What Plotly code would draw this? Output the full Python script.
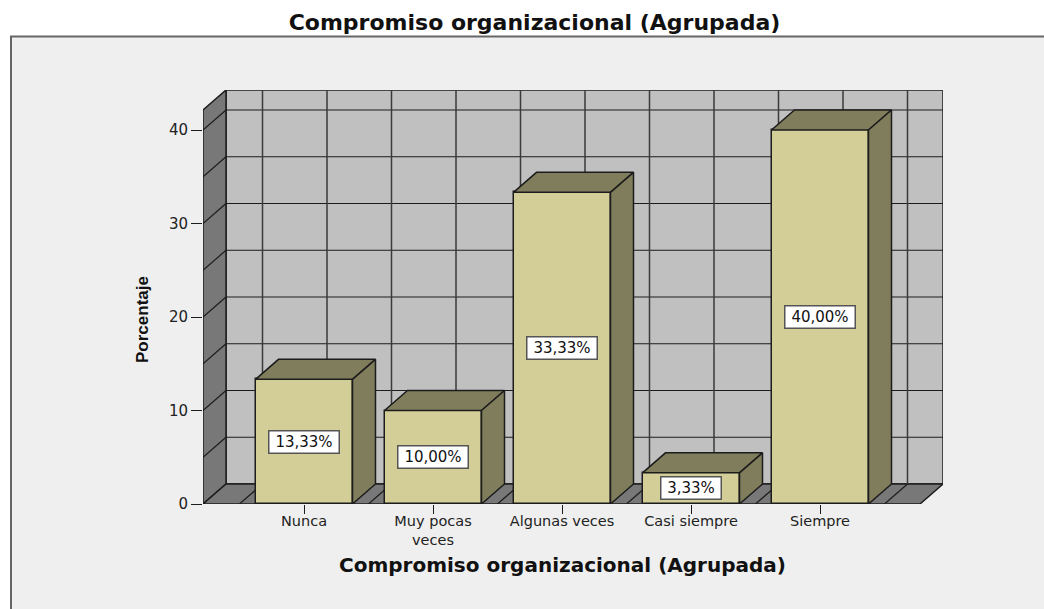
import plotly.graph_objects as go

categories = ["Nunca", "Muy pocas<br>veces", "Algunas veces", "Casi siempre", "Siempre"]
values = [13.33, 10.00, 33.33, 3.33, 40.00]
labels = ["13,33%", "10,00%", "33,33%", "3,33%", "40,00%"]
y_ticks = [0, 10, 20, 30, 40]
title_text = "Compromiso organizacional (Agrupada)"
y_title = "Porcentaje"

W, H = 1044, 609
L, R, T, B = 203, 943, 90, 504
PX_X = 129.0
PX_Y = 9.35
X0 = 304.0
DX = 23 / PX_X
DY = 20 / PX_Y
BAR_W = 97 / PX_X
xr = [(L - X0) / PX_X, (R - X0) / PX_X]
yr = [0, (B - T) / PX_Y]
FRONT = xr[1] - DX
TOPF = yr[1] - DY

WALL, DARK, FRONTC, SIDE, BG = "#c0c0c0", "#787878", "#d3ce97", "#807d5c", "#efefef"
INK = "#1c1c1c"


def px(x):
    return (x - L) / (R - L)


def py(y):
    return (B - y) / (B - T)


def poly(pts):
    return "M" + " L".join(f"{a},{b}" for a, b in pts) + " Z"


shapes = [dict(type="rect", xref="paper", yref="paper", x0=px(11), x1=px(W + 5), y0=py(36.5), y1=py(H + 5),
               fillcolor=BG, line=dict(color="#666666", width=2), layer="below")]


def area(pts, color):
    shapes.append(dict(type="path", xref="x", yref="y", path=poly(pts), fillcolor=color,
                       line=dict(color=INK, width=1.5), layer="below"))


def seg(x0, y0, x1, y1, color=INK, w=1.2):
    shapes.append(dict(type="line", xref="x", yref="y", x0=x0, y0=y0, x1=x1, y1=y1,
                       line=dict(color=color, width=w), layer="below"))


area([(xr[0] + DX, DY), (xr[1], DY), (xr[1], yr[1]), (xr[0] + DX, yr[1])], WALL)
area([(xr[0], 0), (xr[0] + DX, DY), (xr[0] + DX, yr[1]), (xr[0], TOPF)], DARK)
area([(xr[0], 0), (FRONT, 0), (xr[1], DY), (xr[0] + DX, DY)], DARK)

step = 5
level = step
while level <= TOPF:
    seg(xr[0] + DX, level + DY, xr[1], level + DY)
    seg(xr[0], level, xr[0] + DX, level + DY)
    level += step

for k in range(11):
    gx = -0.5 + k * 0.5
    seg(gx + DX, DY, gx + DX, yr[1], "#3a3a3a", 1.5)
    seg(gx, 0, gx + DX, DY)

fig = go.Figure()

fig.add_trace(go.Bar(x=list(range(len(values))), y=values, width=BAR_W,
                     marker=dict(color=FRONTC, line=dict(color=INK, width=1.5)), hoverinfo="skip"))

for i, v in enumerate(values):
    a, b = i - BAR_W / 2, i + BAR_W / 2
    fig.add_trace(go.Scatter(x=[a, b, b + DX, a + DX, a], y=[v, v, v + DY, v + DY, v],
                             mode="lines", fill="toself", fillcolor=SIDE,
                             line=dict(color=INK, width=1.5), hoverinfo="skip"))
    fig.add_trace(go.Scatter(x=[b, b + DX, b + DX, b, b], y=[0, DY, v + DY, v, 0],
                             mode="lines", fill="toself", fillcolor=SIDE,
                             line=dict(color=INK, width=1.5), hoverinfo="skip"))

annotations = [dict(x=i, y=v / 2, xref="x", yref="y", text=t, showarrow=False, bgcolor="white",
                    bordercolor="#555555", borderwidth=1.5, borderpad=1, width=len(t) * 10 + 7, height=19,
                    font=dict(family="DejaVu Sans, sans-serif", size=15, color="#111"))
               for i, (v, t) in enumerate(zip(values, labels))]
annotations += [
    dict(xref="paper", yref="paper", x=px(562), y=py(565), xanchor="center", yanchor="middle",
         text=f"<b>{title_text}</b>", showarrow=False,
         font=dict(family="DejaVu Sans, sans-serif", size=20, color="#111")),
    dict(xref="paper", yref="paper", x=px(142), y=py(320), xanchor="center", yanchor="middle",
         text=f"<b>{y_title}</b>", showarrow=False, textangle=-90,
         font=dict(family="Liberation Sans, sans-serif", size=17, color="#111")),
]

fig.update_layout(
    width=W, height=H, autosize=False, showlegend=False, bargap=0,
    margin=dict(l=L, r=W - R, t=T, b=H - B),
    paper_bgcolor="white", plot_bgcolor="rgba(0,0,0,0)",
    title=dict(text=f"<b>{title_text}</b>", x=534.5 / W, xanchor="center", y=1 - 22 / H, yanchor="middle",
               font=dict(family="DejaVu Sans, sans-serif", size=22, color="#111")),
    shapes=shapes, annotations=annotations,
    xaxis=dict(range=xr, tickmode="array", tickvals=list(range(len(categories))), ticktext=categories,
               ticks="outside", ticklen=9, tickwidth=1.2, tickcolor=INK, showgrid=False, zeroline=False,
               showline=False, ticklabelstandoff=-5,
               tickfont=dict(family="DejaVu Sans, sans-serif", size=14.5, color="#222")),
    yaxis=dict(range=yr, tickmode="array", tickvals=y_ticks, ticks="outside", ticklen=11, tickwidth=1.2,
               tickcolor=INK, showgrid=False, zeroline=False, showline=False,
               tickfont=dict(family="DejaVu Sans, sans-serif", size=15, color="#222")),
)

fig.write_html("out.html", config=dict(displayModeBar=False),
               post_script="document.body.style.margin='0';document.body.style.overflow='hidden';")
